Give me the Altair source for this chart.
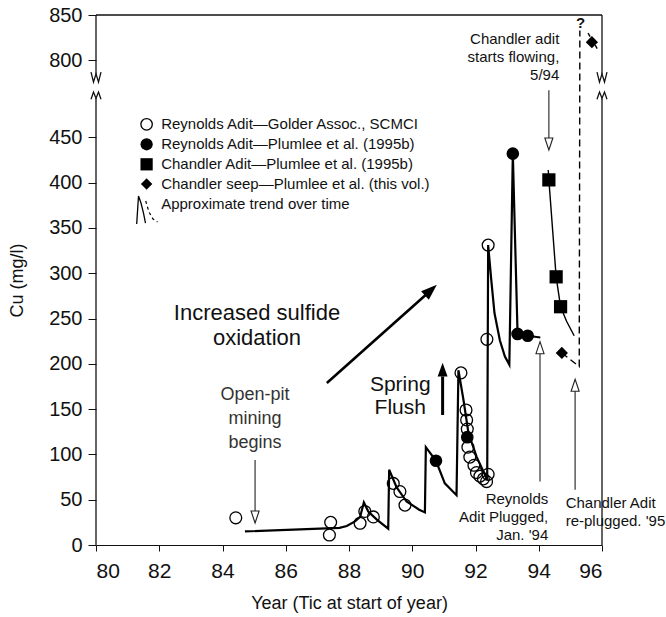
import altair as alt
import pandas as pd

# ---------------- data ----------------
# Reynolds Adit - Golder Assoc., SCMCI (open circles)
golder_year = [84.42, 87.38, 87.42, 88.35, 88.5, 88.77, 89.4, 89.61, 89.77,
               91.54, 91.70, 91.72, 91.74, 91.76, 91.82, 91.95, 92.03, 92.14,
               92.25, 92.35, 92.40, 92.36, 92.40]
golder_cu = [30, 11, 25, 24, 37, 31, 68, 59, 44,
             190, 149, 138, 128, 108, 97, 88, 80, 76,
             73, 70, 78, 227, 331]
# Reynolds Adit - Plumlee et al. (1995b) (filled circles)
plumlee_year = [90.75, 91.74, 93.18, 93.33, 93.65]
plumlee_cu = [93, 119, 432, 233, 231]
# Chandler Adit - Plumlee et al. (1995b) (squares)
chandler_year = [94.32, 94.55, 94.69]
chandler_cu = [403, 296, 263]
# Chandler seep - Plumlee et al. (this vol.) (diamonds)
seep_year = [94.73, 95.68]
seep_cu = [212, 820]

# approximate trend over time (Reynolds adit)
trend_year = [84.71, 87.70, 87.93, 88.19, 88.35, 88.47, 88.61, 88.88, 89.24,
              89.27, 89.50, 89.82, 90.22, 90.40, 90.43, 90.75, 91.03, 91.40,
              91.46, 91.62, 91.78, 92.04, 92.37, 92.40, 92.50, 92.60, 92.77,
              92.93, 93.07, 93.18, 93.33, 93.65, 94.05]
trend_cu = [15, 19, 21, 26, 31, 47, 37, 28, 18,
            83, 64, 48, 39, 36, 108, 93, 68, 55,
            193, 160, 123, 97, 72, 331, 292, 256, 226,
            208, 199, 432, 233, 231, 229]
# Chandler adit trend
ch_trend_year = [94.30, 94.32, 94.55, 94.69, 94.88, 95.12]
ch_trend_cu = [414, 403, 296, 263, 247, 231]
# Chandler seep trend (dashed)
seep_trend_year = [94.73, 95.28, 95.30]
seep_trend_cu = [212, 197, 833]
seep_top_year = [95.56, 95.88]
seep_top_cu = [830, 811]

BREAK_SHIFT = 265  # values above the axis break are shifted down
Y_TICKS = [0, 50, 100, 150, 200, 250, 300, 350, 400, 450, 800 - BREAK_SHIFT, 850 - BREAK_SHIFT]
X_TICKS = list(range(80, 97, 2))

FONT = "Liberation Sans"

xs = alt.Scale(domain=[80, 96], nice=False, zero=False)
ys = alt.Scale(domain=[0, 850 - BREAK_SHIFT], nice=False, zero=False)

x_axis = alt.Axis(values=X_TICKS, format="d", tickSize=6, labelFontSize=21,
                  labelPadding=9, titleFontSize=18, titlePadding=13,
                  title="Year (Tic at start of year)", grid=False,
                  domainColor="#111", tickColor="#111", labelColor="#111",
                  titleColor="#111", titleFontWeight="normal", labelFont=FONT, titleFont=FONT)
y_axis = alt.Axis(values=Y_TICKS, tickSize=8, labelFontSize=20, labelPadding=6,
                  labelExpr=f"datum.value > 500 ? datum.value + {BREAK_SHIFT} : datum.value",
                  titleFontSize=18, titlePadding=22, title="Cu (mg/l)", grid=False,
                  domain=False, tickColor="#111", labelColor="#111", titleColor="#111",
                  titleFontWeight="normal", labelFont=FONT, titleFont=FONT)

X = alt.X("x:Q", scale=xs, axis=x_axis)
Y = alt.Y("y:Q", scale=ys, axis=y_axis)


def data_chart(xv, cv, **extra):
    d = {"x": xv, "cu": cv, "i": list(range(len(xv)))}
    d.update(extra)
    return alt.Chart(pd.DataFrame(d)).transform_calculate(
        y=f"datum.cu > 600 ? datum.cu - {BREAK_SHIFT} : datum.cu")


def deco_chart(xv, yv, **extra):
    d = {"x": xv, "y": yv, "i": list(range(len(xv)))}
    d.update(extra)
    return alt.Chart(pd.DataFrame(d))


layers = []

# ---------------- frame with axis breaks (plot units) ----------------
fx, fy, fg = [], [], []
for side, x0 in (("L", 80.0), ("R", 96.0)):
    dx = 0.158
    segs = {
        "up": [(x0, 585), (x0, 520)],
        "W": [(x0 - dx, 522), (x0 - dx / 2, 511), (x0, 520), (x0 + dx / 2, 511), (x0 + dx, 522)],
        "M": [(x0 - dx, 492), (x0 - dx / 2, 500), (x0, 493), (x0 + dx / 2, 500), (x0 + dx, 492)],
        "low": [(x0, 493), (x0, 0)],
    }
    for k, pts in segs.items():
        for (a, b) in pts:
            fx.append(a); fy.append(b); fg.append(side + k)
for (a, b) in [(80, 585), (96, 585)]:
    fx.append(a); fy.append(b); fg.append("top")
layers.append(deco_chart(fx, fy, g=fg).mark_line(color="#111", strokeWidth=1.3).encode(
    x=X, y=Y, detail="g:N", order="i:Q"))

# ---------------- trend lines ----------------
layers.append(data_chart(trend_year, trend_cu).mark_line(color="black", strokeWidth=2.2).encode(
    x=X, y=Y, order="i:Q"))
layers.append(data_chart(ch_trend_year, ch_trend_cu).mark_line(color="black", strokeWidth=1.4).encode(
    x=X, y=Y, order="i:Q"))
layers.append(data_chart(seep_trend_year, seep_trend_cu).mark_line(
    color="black", strokeWidth=1.4, strokeDash=[7, 4]).encode(x=X, y=Y, order="i:Q"))
layers.append(data_chart(seep_top_year, seep_top_cu).mark_line(
    color="black", strokeWidth=1.4, strokeDash=[4, 3]).encode(x=X, y=Y, order="i:Q"))

# ---------------- data points ----------------
layers.append(data_chart(golder_year, golder_cu).mark_point(
    shape="circle", filled=False, stroke="black", strokeWidth=1.3, size=140, opacity=1).encode(x=X, y=Y))
layers.append(data_chart(plumlee_year, plumlee_cu).mark_point(
    shape="circle", filled=True, fill="black", size=160, opacity=1).encode(x=X, y=Y))
layers.append(data_chart(chandler_year, chandler_cu).mark_point(
    shape="square", filled=True, fill="black", size=175, opacity=1).encode(x=X, y=Y))
layers.append(data_chart(seep_year, seep_cu).mark_point(
    shape="diamond", filled=True, fill="black", size=150, opacity=1).encode(x=X, y=Y))

# ---------------- legend (manual) ----------------
leg_labels = ["Reynolds Adit\u2014Golder Assoc., SCMCI",
              "Reynolds Adit\u2014Plumlee et al. (1995b)",
              "Chandler Adit\u2014Plumlee et al. (1995b)",
              "Chandler seep\u2014Plumlee et al. (this vol.)",
              "Approximate trend over time"]
leg_y = [464.3, 442.3, 420.2, 398.5, 376.4]
leg_sym_x = 81.6
leg_txt_x = 82.06
layers.append(deco_chart([leg_txt_x] * 5, leg_y, t=leg_labels).mark_text(
    align="left", baseline="middle", fontSize=15, font=FONT, color="#111").encode(x=X, y=Y, text="t:N"))
layers.append(deco_chart([leg_sym_x], [leg_y[0]]).mark_point(
    shape="circle", filled=False, stroke="black", strokeWidth=1.3, size=130, opacity=1).encode(x=X, y=Y))
layers.append(deco_chart([leg_sym_x], [leg_y[1]]).mark_point(
    shape="circle", filled=True, fill="black", size=150, opacity=1).encode(x=X, y=Y))
layers.append(deco_chart([leg_sym_x], [leg_y[2]]).mark_point(
    shape="square", filled=True, fill="black", size=150, opacity=1).encode(x=X, y=Y))
layers.append(deco_chart([leg_sym_x], [leg_y[3]]).mark_point(
    shape="diamond", filled=True, fill="black", size=130, opacity=1).encode(x=X, y=Y))
layers.append(deco_chart([81.287, 81.344, 81.423, 81.502, 81.565],
                         [354.3, 385.2, 377.5, 366.4, 355.4]).mark_line(
    color="black", strokeWidth=1.3).encode(x=X, y=Y, order="i:Q"))
layers.append(deco_chart([81.571, 81.676, 81.802, 81.945],
                         [379.7, 367.5, 359.8, 356.5]).mark_line(
    color="black", strokeWidth=1.2, strokeDash=[3, 3]).encode(x=X, y=Y, order="i:Q"))

# ---------------- annotation arrows ----------------
arrow_x = [85.03, 85.03, 94.32, 94.32, 94.04, 94.04, 95.15, 95.15]
arrow_y = [93.8, 37.5, 502, 447, 212, 70, 170, 61]
arrow_g = ["a", "a", "b", "b", "c", "c", "d", "d"]
layers.append(deco_chart(arrow_x, arrow_y, g=arrow_g).mark_line(
    color="#333", strokeWidth=1.2).encode(x=X, y=Y, detail="g:N", order="i:Q"))
TRI_DOWN = "M0,1L0.67,-1L-0.67,-1Z"
TRI_UP = "M0,-1L0.67,1L-0.67,1Z"
layers.append(deco_chart([85.03, 94.32], [30.9, 442.6]).mark_point(
    shape=TRI_DOWN, filled=True, fill="white", stroke="#222", strokeWidth=1.1, size=144, opacity=1).encode(x=X, y=Y))
layers.append(deco_chart([94.04, 95.15], [217.8, 176.3]).mark_point(
    shape=TRI_UP, filled=True, fill="white", stroke="#222", strokeWidth=1.1, size=144, opacity=1).encode(x=X, y=Y))

# Spring flush arrow
layers.append(deco_chart([90.96, 90.96], [143.5, 186]).mark_line(
    color="black", strokeWidth=3).encode(x=X, y=Y, order="i:Q"))
layers.append(deco_chart([90.96], [193.5]).mark_point(
    shape="M0,-1L0.72,1L-0.72,1Z", filled=True, fill="black", size=190, opacity=1).encode(x=X, y=Y))
# Increased sulfide oxidation arrow
layers.append(deco_chart([87.30, 90.45], [178.8, 276.7]).mark_line(
    color="black", strokeWidth=2.6).encode(x=X, y=Y, order="i:Q"))
layers.append(deco_chart([90.59], [281.3]).mark_point(
    shape="M0,-1L0.72,1L-0.72,1Z", filled=True, fill="black", size=256, angle=48, opacity=1).encode(x=X, y=Y))

# ---------------- annotation texts (multi-line blocks, anchor = first line) ----------------
def block(xv, yv, label, align, size, lh, color="#111", weight="normal"):
    return deco_chart([xv], [yv], t=[label]).mark_text(
        align=align, baseline="middle", fontSize=size, font=FONT, color=color,
        fontWeight=weight, lineBreak="\n", lineHeight=lh).encode(x=X, y=Y, text="t:N")

layers.append(block(85.03, 165.6, "Open-pit\nmining\nbegins", "center", 18, 24, "#333"))
layers.append(block(85.09, 256.0, "Increased sulfide\noxidation", "center", 22, 25))
layers.append(block(89.62, 177.0, "Spring\nFlush", "center", 21, 23))
layers.append(block(94.65, 558.0, "Chandler adit\nstarts flowing,\n5/94", "right", 15, 18))
layers.append(block(94.30, 50.4, "Reynolds\nAdit Plugged,\nJan. '94", "right", 15, 18))
layers.append(block(94.85, 46.7, "Chandler Adit\nre-plugged. '95", "left", 15, 18))
layers.append(block(95.32, 576.0, "?", "center", 15, 15, "#111", "bold"))

chart = alt.layer(*layers).properties(
    width=506, height=530,
    padding={"left": 96, "top": 15, "right": 64, "bottom": 72},
    autosize=alt.AutoSizeParams(type="none"),
    background="white",
).configure_view(stroke=None).configure_text(font=FONT)

chart.save("out.html", embed_options={"renderer": "svg", "actions": False})
